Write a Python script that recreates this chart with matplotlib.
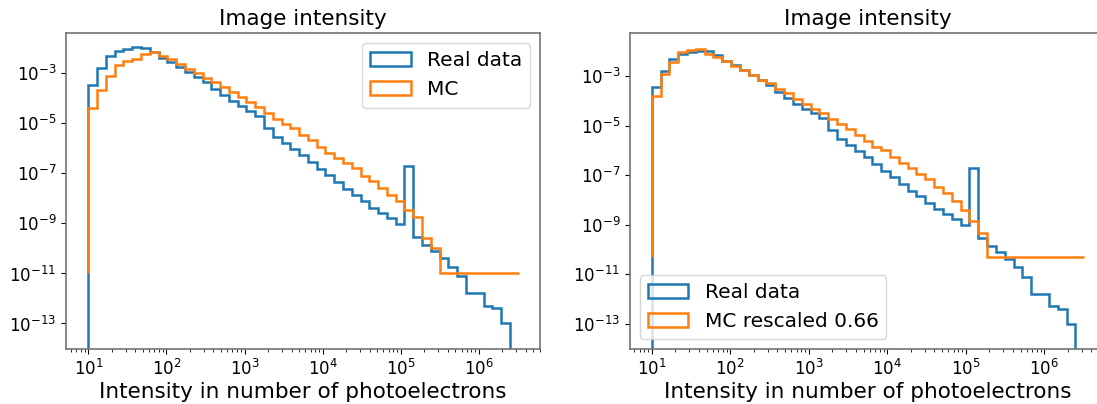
import numpy as np
import matplotlib
matplotlib.use('Agg')
import matplotlib.pyplot as plt
from matplotlib.patches import Patch
from matplotlib.ticker import NullLocator

# bin edges (log spaced, 49 bins from 10 to ~3.2e6 photoelectrons)
edges = np.logspace(1, 6.51, 50)

# log10 of the normalised histogram values
real_log = [-3.45, -2.80, -2.30, -2.10, -2.02, -1.96, -1.98, -2.14, -2.37, -2.55,
            -2.75, -2.93, -3.13, -3.35, -3.64, -3.88, -4.10, -4.31, -4.49, -4.69,
            -5.18, -5.55, -5.78, -6.03, -6.28, -6.54, -6.82, -7.08, -7.35, -7.62,
            -7.85, -8.12, -8.38, -8.58, -8.78, -9.03, -6.70, -9.55, -9.86, -10.12,
            -10.39, -10.73, -11.10, -11.80, -11.80, -12.31, -12.40, -13.00]
mc_log = [-4.38, -3.67, -3.10, -2.65, -2.51, -2.44, -2.22, -2.16, -2.29, -2.43,
          -2.63, -2.83, -3.00, -3.19, -3.36, -3.56, -3.76, -3.96, -4.16, -4.34,
          -4.57, -4.81, -5.04, -5.17, -5.46, -5.65, -5.93, -6.17, -6.37, -6.60,
          -6.78, -7.11, -7.31, -7.58, -7.85, -8.12, -8.45, -8.74, -9.59, -9.99,
          -11.0, -11.0, -11.0, -11.0, -11.0, -11.0, -11.0, -11.0, -11.0]
mc_rescaled_log = [-3.81, -2.89, -2.42, -2.01, -1.95, -1.89, -2.08, -2.21, -2.39, -2.59,
                   -2.76, -2.93, -3.13, -3.27, -3.51, -3.67, -3.90, -4.11, -4.31, -4.48,
                   -4.73, -4.93, -5.13, -5.38, -5.60, -5.84, -6.00, -6.28, -6.49, -6.71,
                   -6.95, -7.15, -7.46, -7.73, -8.03, -8.41, -8.84, -9.33, -10.3, -10.3,
                   -10.3, -10.3, -10.3, -10.3, -10.3, -10.3, -10.3, -10.3, -10.3]

# last real-data bin is empty
real = np.append(10.0 ** np.array(real_log), 0.0)
mc = 10.0 ** np.array(mc_log)
mc_rescaled = 10.0 ** np.array(mc_rescaled_log)

lw = 1.8
fig = plt.figure(figsize=(10.97, 4.04), dpi=100)
# right panel runs past the right edge of the picture (cropped like the original)
ax1 = fig.add_axes([0.0602, 0.1361, 0.4321, 0.7815])
ax2 = fig.add_axes([0.5743, 0.1361, 0.4330, 0.7815])

panels = [
    (ax1, mc, 'MC', 'upper right', (10**0.714, 10**6.784), (10**-14.02, 10**-1.40)),
    (ax2, mc_rescaled, 'MC rescaled 0.66', 'lower left', (10**0.724, 10**6.775), (10**-14.03, 10**-1.26)),
]

for ax, mc_vals, mc_label, loc, xlim, ylim in panels:
    ax.set_xscale('log')
    ax.set_yscale('log')
    ax.stairs(real, edges, baseline=1e-30, color='C0', lw=lw)
    ax.stairs(mc_vals, edges, baseline=mc_vals.min(), color='C1', lw=lw)
    ax.set_xlim(*xlim)
    ax.set_ylim(*ylim)
    ax.set_yticks([10.0 ** e for e in range(-13, -2, 2)])
    ax.yaxis.set_minor_locator(NullLocator())
    ax.tick_params(labelsize=12)
    for sp in ax.spines.values():
        sp.set_color('0.45')
        sp.set_linewidth(1.2)
    ax.set_title('Image intensity', fontsize=15.5)
    ax.set_xlabel('Intensity in number of photoelectrons', fontsize=15.5, labelpad=2)
    handles = [Patch(facecolor='none', edgecolor='C0', lw=lw, label='Real data'),
               Patch(facecolor='none', edgecolor='C1', lw=lw, label=mc_label)]
    ax.legend(handles=handles, loc=loc, fontsize=14.5)

fig.savefig('out.png', dpi=100)
